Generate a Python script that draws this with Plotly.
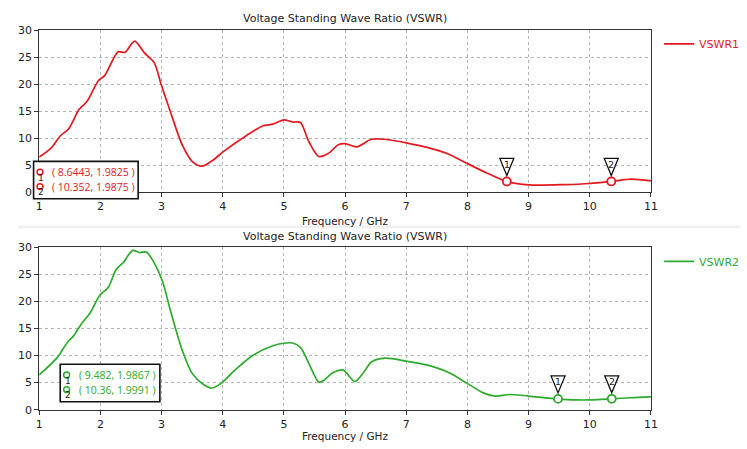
import plotly.graph_objects as go

W, H = 747, 449

# ---------------- data ----------------
freq1 = [1.0, 1.19, 1.35, 1.48, 1.65, 1.78, 1.97, 2.07, 2.29, 2.40, 2.56, 2.72, 2.88, 2.99,
         3.15, 3.34, 3.50, 3.66, 3.85, 4.01, 4.39, 4.66, 4.82, 5.0, 5.14, 5.27, 5.41, 5.57,
         5.73, 5.89, 6.0, 6.19, 6.43, 6.65, 7.02, 7.34, 7.66, 7.98, 8.31, 8.6443, 9.0, 9.6,
         10.0, 10.352, 10.68, 11.0]
vswr1 = [6.5, 8.1, 10.5, 11.7, 15.3, 16.8, 20.7, 21.6, 26.0, 25.9, 28.0, 25.8, 24.0, 20.1,
         14.7, 8.7, 5.7, 4.8, 6.0, 7.5, 10.5, 12.3, 12.6, 13.4, 13.0, 12.9, 9.3, 6.6,
         7.2, 8.8, 9.0, 8.4, 9.8, 9.8, 9.1, 8.3, 7.2, 5.4, 3.6, 1.98, 1.35, 1.4,
         1.6, 1.99, 2.4, 2.1]

freq2 = [1.0, 1.30, 1.46, 1.56, 1.70, 1.83, 1.99, 2.13, 2.26, 2.37, 2.53, 2.64, 2.75, 2.88,
         3.02, 3.15, 3.34, 3.50, 3.69, 3.82, 3.98, 4.17, 4.49, 4.82, 5.03, 5.14, 5.27, 5.41,
         5.57, 5.65, 5.80, 5.97, 6.16, 6.30, 6.43, 6.65, 7.02, 7.45, 7.72, 7.99, 8.26, 8.45,
         8.69, 9.0, 9.482, 9.76, 10.03, 10.36, 10.67, 11.0]
vswr2 = [6.4, 9.7, 12.4, 13.6, 16.0, 17.8, 21.1, 22.6, 25.9, 27.1, 29.4, 29.0, 29.1, 27.1,
         23.5, 18.1, 10.9, 6.7, 4.6, 4.0, 4.9, 7.0, 10.0, 11.8, 12.3, 12.3, 11.5, 8.5,
         5.1, 5.4, 6.8, 7.3, 5.2, 6.8, 8.8, 9.5, 8.9, 7.9, 6.7, 4.9, 3.1, 2.5,
         2.8, 2.5, 1.99, 1.8, 1.8, 2.0, 2.2, 2.35]

mark1_x = [8.6443, 10.352]
mark1_y = [1.9825, 1.9875]
mark2_x = [9.482, 10.36]
mark2_y = [1.9867, 1.9991]
mark_ids = ["1", "2"]

title_text = "Voltage Standing Wave Ratio (VSWR)"
xlabel = "Frequency / GHz"
xticks = list(range(1, 12))
yticks = list(range(0, 31, 5))

RED = "#e3191f"
GREEN = "#2eaa2e"
FONT = "DejaVu Sans"
BOXFONT = "Open Sans"

# ---------------- layout geometry (pixels) ----------------
x0px, x1px = 36.7, 656.7
top_px = (25.0, 191.7)
bot_px = (248.3, 415.7)


def ydom(p):
    return [1 - p[1] / H, 1 - p[0] / H]


xdom = [x0px / W, x1px / W]

fig = go.Figure()

fig.add_trace(go.Scatter(x=freq1, y=vswr1, mode="lines", name="VSWR1",
                         line=dict(color=RED, width=1.7, shape="spline", smoothing=0.8),
                         xaxis="x", yaxis="y", legend="legend"))
fig.add_trace(go.Scatter(x=freq2, y=vswr2, mode="lines", name="VSWR2",
                         line=dict(color=GREEN, width=1.7, shape="spline", smoothing=0.8),
                         xaxis="x2", yaxis="y2", legend="legend2"))

ann = []
shapes = []

for mx, my, col, xa, ya in [(mark1_x, mark1_y, RED, "x", "y"), (mark2_x, mark2_y, GREEN, "x2", "y2")]:
    fig.add_trace(go.Scatter(x=mx, y=my, mode="markers",
                             marker=dict(symbol="circle", size=8, color="white",
                                         line=dict(color=col, width=1.8)),
                             showlegend=False, hoverinfo="skip", xaxis=xa, yaxis=ya))
    for i in range(len(mx)):
        # inverted triangle flag, pixel-sized, anchored at the marker
        shapes.append(dict(type="path", xref=xa, yref=ya, xsizemode="pixel", ysizemode="pixel",
                           xanchor=mx[i], yanchor=my[i],
                           path="M -7,23 L 7,23 L 0,6 Z",
                           fillcolor="white", line=dict(color="#111", width=1.3), layer="above"))
        ann.append(dict(text=mark_ids[i], x=mx[i], y=my[i], xref=xa, yref=ya, yshift=17,
                        showarrow=False, font=dict(family=FONT, size=9.5, color="#222"),
                        xanchor="center", yanchor="middle"))

axis_common = dict(range=[1, 11], tickvals=xticks, showgrid=True, gridcolor="#b4b4b4",
                   griddash="dot", gridwidth=1, showline=True, linecolor="#333", linewidth=1.2,
                   mirror=True, ticks="outside", ticklen=4, tickcolor="#333",
                   tickfont=dict(family=FONT, size=11, color="#222"), zeroline=False,
                   domain=xdom)
yaxis_common = dict(range=[0, 30], tickvals=yticks, showgrid=True, gridcolor="#b4b4b4",
                    griddash="dot", gridwidth=1, showline=True, linecolor="#333", linewidth=1.2,
                    mirror=True, ticks="outside", ticklen=4, tickcolor="#333",
                    tickfont=dict(family=FONT, size=11, color="#222"), zeroline=False)

fig.update_layout(
    width=W, height=H, margin=dict(l=0, r=0, t=0, b=0),
    paper_bgcolor="white", plot_bgcolor="white",
    font=dict(family=FONT, size=11, color="#222"),
    xaxis=dict(**axis_common, anchor="y"),
    yaxis=dict(**yaxis_common, domain=ydom(top_px), anchor="x"),
    xaxis2=dict(**axis_common, anchor="y2"),
    yaxis2=dict(**yaxis_common, domain=ydom(bot_px), anchor="x2"),
    legend=dict(x=665 / W, y=1 - 24 / H, xanchor="left", yanchor="top",
                font=dict(family=FONT, size=11, color=RED), bgcolor="rgba(0,0,0,0)"),
    legend2=dict(x=665 / W, y=1 - 248 / H, xanchor="left", yanchor="top",
                 font=dict(family=FONT, size=11, color=GREEN), bgcolor="rgba(0,0,0,0)"),
    showlegend=True,
)

# titles and axis labels
for ty, ly in [(13, 221), (237, 442.5)]:
    ann.append(dict(text=title_text, x=(x0px + x1px) / 2 / W, y=1 - ty / H, xref="paper", yref="paper",
                    showarrow=False, font=dict(family=FONT, size=11, color="#222"),
                    xanchor="center", yanchor="middle"))
    ann.append(dict(text=xlabel, x=(x0px + x1px) / 2 / W, y=1 - ly / H, xref="paper", yref="paper",
                    showarrow=False, font=dict(family=FONT, size=10.5, color="#222"),
                    xanchor="center", yanchor="middle"))

# separator band
shapes.append(dict(type="rect", xref="paper", yref="paper", x0=0.02, x1=1, y0=1 - 229 / H, y1=1 - 226 / H,
                   fillcolor="#f0f0f0", line=dict(width=0), layer="below"))

# marker info boxes
for (bx0, by0, bx1, by1), mx, my, col in [((31, 160, 137, 198.5), mark1_x, mark1_y, RED),
                                          ((58, 369, 159, 407.5), mark2_x, mark2_y, GREEN)]:
    shapes.append(dict(type="rect", xref="paper", yref="paper", x0=bx0 / W, x1=bx1 / W,
                       y0=1 - by1 / H, y1=1 - by0 / H, fillcolor="white",
                       line=dict(color="#111", width=1.6), layer="above"))
    for i in range(2):
        rowy = by0 + 11 + i * 15
        cx = bx0 + 6.5
        shapes.append(dict(type="circle", xref="paper", yref="paper",
                           x0=(cx - 3) / W, x1=(cx + 3) / W, y0=1 - (rowy + 3) / H, y1=1 - (rowy - 3) / H,
                           line=dict(color=col, width=1.5), fillcolor="white", layer="above"))
        ann.append(dict(text=mark_ids[i], x=(cx + 1.5) / W, y=1 - (rowy + 6) / H, xref="paper", yref="paper",
                        showarrow=False, font=dict(family=FONT, size=9, color="#222"),
                        xanchor="center", yanchor="middle"))
        ann.append(dict(text=f"( {mx[i]}, {my[i]} )", x=(bx0 + 17) / W, y=1 - rowy / H,
                        xref="paper", yref="paper", showarrow=False,
                        font=dict(family=BOXFONT, size=10.5, color=col), xanchor="left", yanchor="middle"))

fig.update_layout(annotations=ann, shapes=shapes)
fig.write_html("out.html")
